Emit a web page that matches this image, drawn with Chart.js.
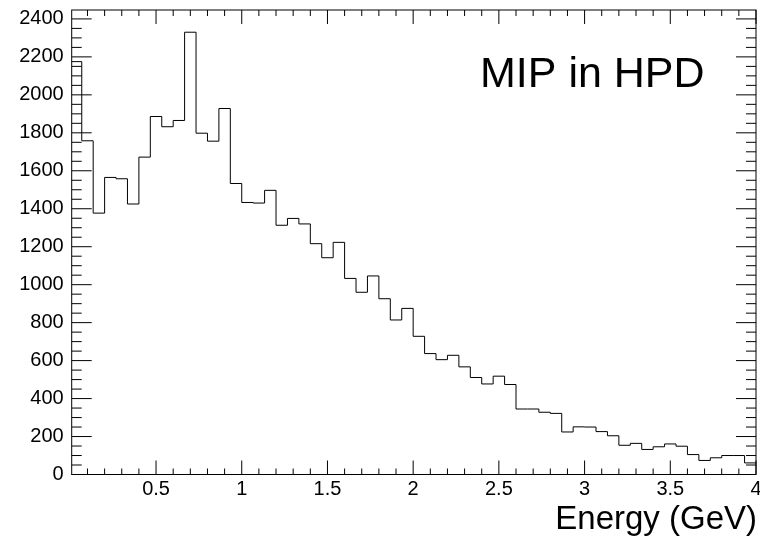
<!DOCTYPE html>
<html>
<head>
<meta charset="utf-8">
<script src="https://cdn.jsdelivr.net/npm/chart.js@4.4.1/dist/chart.umd.min.js"></script>
<style>
  body { margin: 0; background: #fff; }
  #chartMip { display: block; }
</style>
</head>
<body>
<canvas id="chartMip" width="760" height="536"></canvas>
<script>
// Histogram: 60 bins between 0 and 4 GeV
const xMin = 0;
const xMax = 4;
const nBins = 60;
const counts = [
  2175, 1758, 1377, 1565, 1558, 1425, 1672, 1886, 1832, 1865,
  2330, 1798, 1756, 1928, 1533, 1433, 1430, 1497, 1313, 1349,
  1320, 1216, 1142, 1223, 1033, 960, 1046, 926, 814, 875,
  728, 637, 605, 628, 567, 511, 477, 518, 474, 345,
  345, 328, 322, 224, 251, 250, 226, 204, 154, 164,
  132, 146, 161, 149, 105, 74, 88, 100, 100, 61
];
const xTicks = [0.5, 1, 1.5, 2, 2.5, 3, 3.5, 4];
const yTicks = [0, 200, 400, 600, 800, 1000, 1200, 1400, 1600, 1800, 2000, 2200, 2400];
const histTitle = "MIP in HPD";
const xTitle = "Energy (GeV)";

const FONT = "'Liberation Sans', Arial, Helvetica, sans-serif";

// bin lower edges -> step points, last point closes the last bin at xMax
function buildPoints() {
  const w = (xMax - xMin) / nBins;
  let pts = counts.map((c, i) => ({ x: xMin + i * w, y: c }));
  pts.push({ x: xMax, y: counts[counts.length - 1] });
  return pts;
}

// ROOT style frame + ticks inside the frame, plus the texts
const rootFrame = {
  id: "rootFrame",
  afterDraw(chart) {
    const ctx = chart.ctx;
    const a = chart.chartArea;
    const xs = chart.scales.x;
    const ys = chart.scales.y;
    ctx.save();
    ctx.strokeStyle = "#000";
    ctx.lineWidth = 1;
    ctx.strokeRect(a.left, a.top, a.right - a.left, a.bottom - a.top);

    ctx.beginPath();
    // y ticks (major 200, minor 50)
    for (let v = 0; v <= ys.max; v += 50) {
      let py = ys.getPixelForValue(v);
      let len = v % 200 === 0 ? 20 : 10;
      ctx.moveTo(a.left, py);
      ctx.lineTo(a.left + len, py);
      ctx.moveTo(a.right, py);
      ctx.lineTo(a.right - len, py);
    }
    // x ticks (major 0.5, minor 0.1)
    for (let i = 1; i <= 40; i++) {
      let v = i / 10;
      let px = xs.getPixelForValue(v);
      let len = i % 5 === 0 ? 14 : 6;
      ctx.moveTo(px, a.bottom);
      ctx.lineTo(px, a.bottom - len);
      ctx.moveTo(px, a.top);
      ctx.lineTo(px, a.top + len);
    }
    ctx.stroke();

    ctx.fillStyle = "#000";
    ctx.font = "43px " + FONT;
    ctx.textAlign = "left";
    ctx.textBaseline = "alphabetic";
    ctx.fillText(histTitle, 480, 87);

    ctx.font = "33px " + FONT;
    ctx.textAlign = "right";
    ctx.fillText(xTitle, 757, 529);
    ctx.restore();
  }
};

function generateChart() {
  new Chart(document.getElementById("chartMip").getContext("2d"), {
    type: "line",
    data: {
      datasets: [
        {
          label: histTitle,
          data: buildPoints(),
          stepped: "before",
          borderColor: "#000",
          borderWidth: 1,
          pointRadius: 0,
          fill: false,
          tension: 0,
        },
      ],
    },
    options: {
      responsive: false,
      animation: false,
      layout: { padding: { top: 10, right: 4, left: 0, bottom: 0 } },
      plugins: { legend: { display: false }, tooltip: { enabled: false } },
      scales: {
        x: {
          type: "linear",
          min: 0.008,
          max: 4,
          grid: { display: false, drawTicks: false },
          border: { display: false },
          afterBuildTicks: (s) => { s.ticks = xTicks.map((v) => ({ value: v })); },
          afterFit: (s) => { s.height = 61.5; s.paddingLeft = 0; s.paddingRight = 0; },
          ticks: {
            padding: 3,
            maxRotation: 0,
            autoSkip: false,
            color: "#000",
            font: { family: FONT, size: 20 },
            callback: (v) => String(v),
          },
        },
        y: {
          min: 0,
          max: 2447,
          grid: { display: false, drawTicks: false },
          border: { display: false },
          afterBuildTicks: (s) => { s.ticks = yTicks.map((v) => ({ value: v })); },
          afterFit: (s) => { s.width = 71.7; s.paddingTop = 0; s.paddingBottom = 0; },
          ticks: {
            padding: 8,
            autoSkip: false,
            color: "#000",
            font: { family: FONT, size: 20 },
            callback: (v) => String(v),
          },
        },
      },
    },
    plugins: [rootFrame],
  });
}

generateChart();
</script>
</body>
</html>
